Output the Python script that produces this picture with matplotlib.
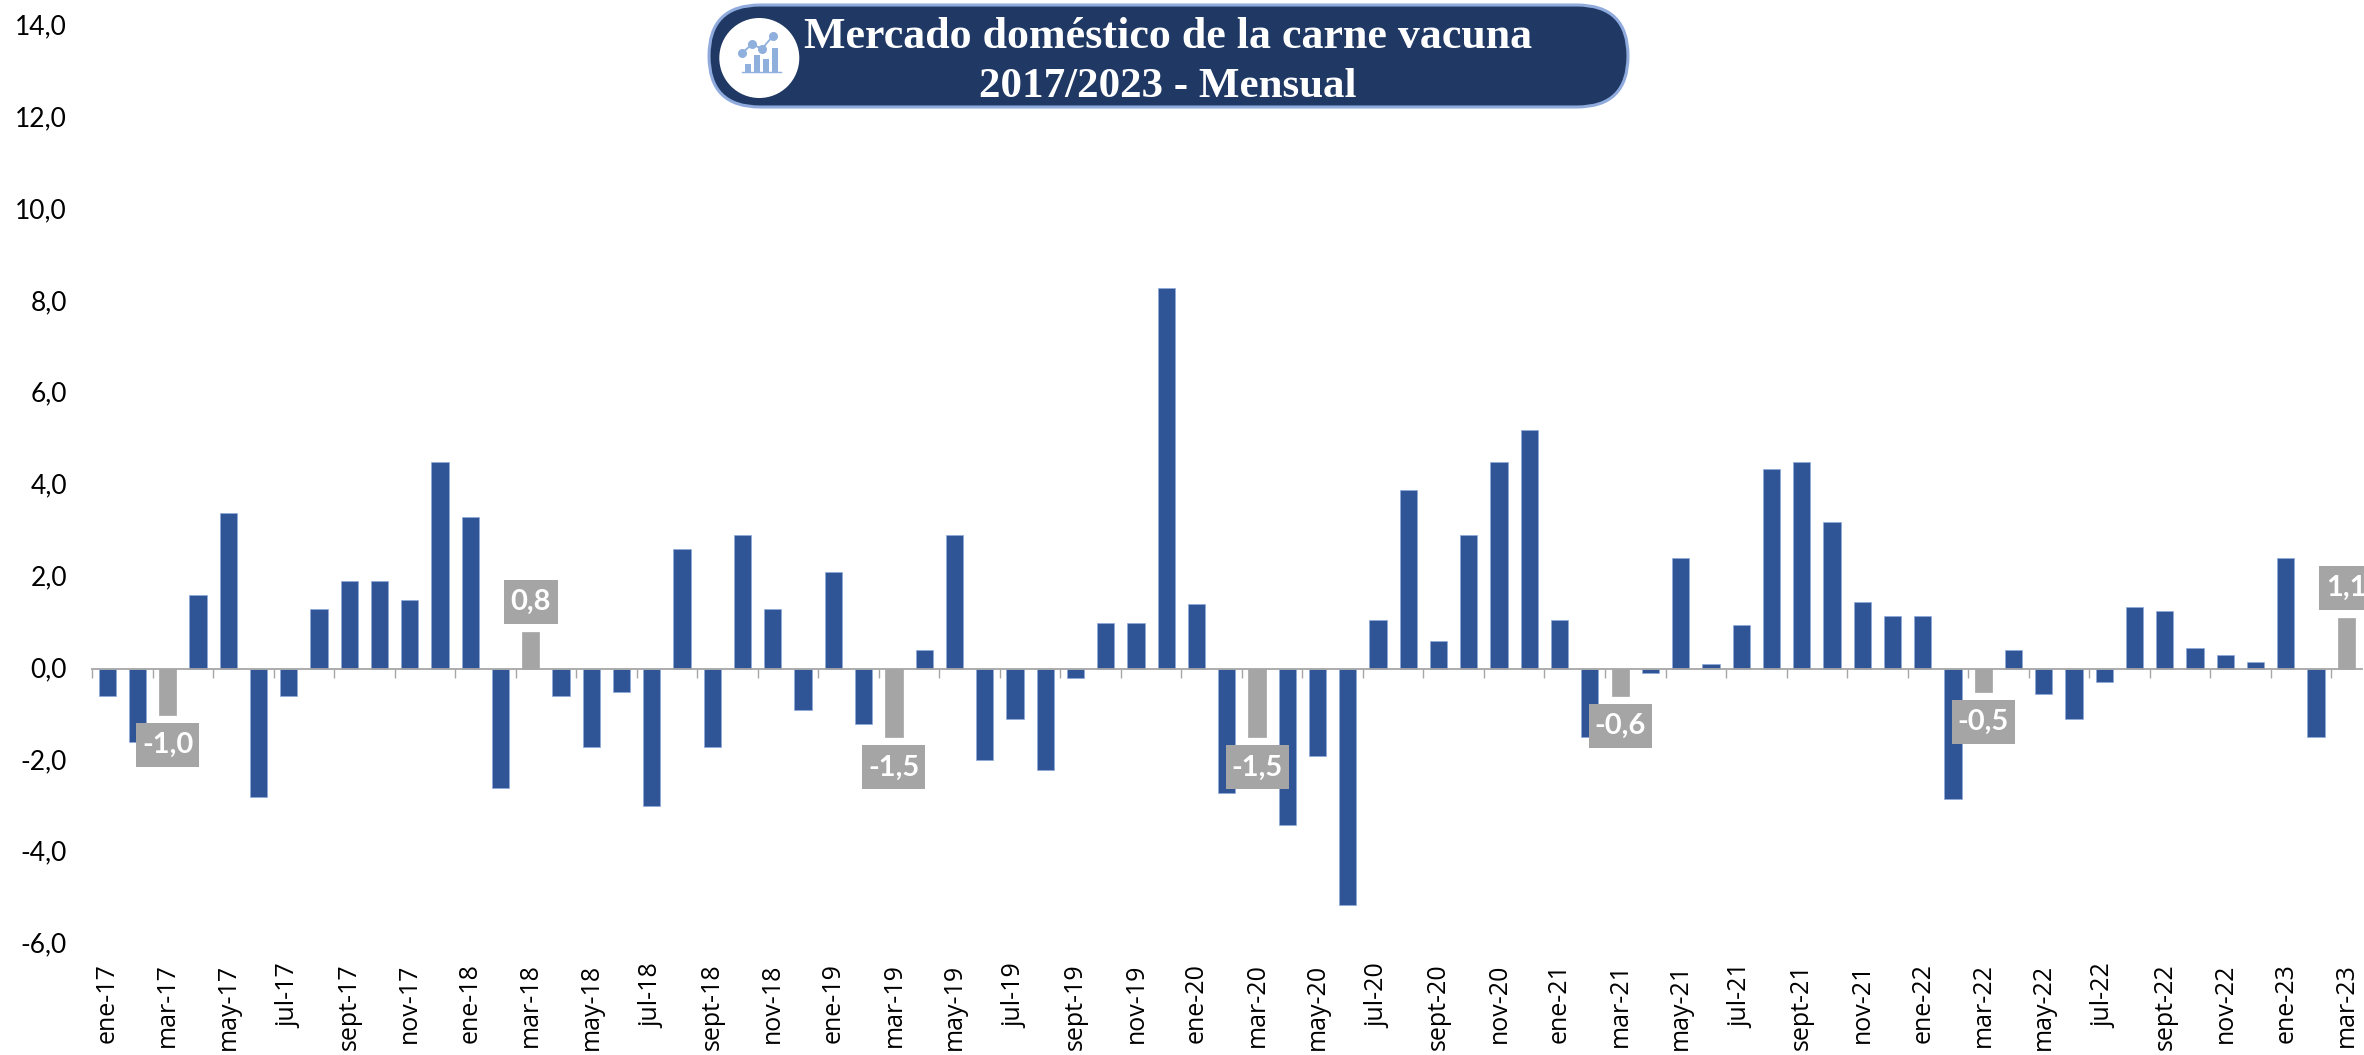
#!/usr/bin/env python
# -*- coding: utf-8 -*-

import matplotlib
matplotlib.use('Agg')
import matplotlib.pyplot as plt
from matplotlib.patches import Circle, FancyBboxPatch, Rectangle
from matplotlib.transforms import ScaledTranslation

MONTHS = ['ene', 'feb', 'mar', 'abr', 'may', 'jun', 'jul', 'ago', 'sept', 'oct', 'nov', 'dic']
YEARS = ['17', '18', '19', '20', '21', '22', '23']

values_2017 = [-0.6, -1.6, -1.0, 1.6, 3.4, -2.8, -0.6, 1.3, 1.9, 1.9, 1.5, 4.5]
values_2018 = [3.3, -2.6, 0.8, -0.6, -1.7, -0.5, -3.0, 2.6, -1.7, 2.9, 1.3, -0.9]
values_2019 = [2.1, -1.2, -1.5, 0.4, 2.9, -2.0, -1.1, -2.2, -0.2, 1.0, 1.0, 8.3]
values_2020 = [1.4, -2.7, -1.5, -3.4, -1.9, -5.15, 1.05, 3.9, 0.6, 2.9, 4.5, 5.2]
values_2021 = [1.05, -1.5, -0.6, -0.1, 2.4, 0.1, 0.95, 4.35, 4.5, 3.2, 1.45, 1.15]
values_2022 = [1.15, -2.85, -0.5, 0.4, -0.55, -1.1, -0.3, 1.35, 1.25, 0.45, 0.3, 0.15]
values_2023 = [2.4, -1.5, 1.1]

values = (values_2017 + values_2018 + values_2019 + values_2020 +
          values_2021 + values_2022 + values_2023)
labels = [f'{MONTHS[i % 12]}-{YEARS[i // 12]}' for i in range(len(values))]

y_ticks = [-6, -4, -2, 0, 2, 4, 6, 8, 10, 12, 14]

TITLE_1 = 'Mercado doméstico de la carne vacuna'
TITLE_2 = '2017/2023 - Mensual'

BLUE = '#2F5597'
BLUE_EDGE = '#8FAADC'
GRAY = '#A5A5A5'
AXIS = '#A6A6A6'
NAVY = '#1F3864'
ICON = '#8FAFDC'

W, H = 2364, 1055
LEFT, RIGHT, TOP, BOTTOM = 92, 2361.5, 26, 944   # plot area, pixels

px_x = (RIGHT - LEFT) / len(values)   # pixels per category
px_y = (BOTTOM - TOP) / 20            # pixels per y unit


def fmt(v):
    return f'{v:.1f}'.replace('.', ',')


def draw_chart(fig):
    ax = fig.add_axes([LEFT / W, 1 - BOTTOM / H, (RIGHT - LEFT) / W, (BOTTOM - TOP) / H])
    xs = range(len(values))
    # every march is highlighted in gray
    colors = [GRAY if lb.startswith('mar') else BLUE for lb in labels]
    edges = [GRAY if lb.startswith('mar') else BLUE_EDGE for lb in labels]
    ax.bar(xs, values, width=0.57, color=colors, edgecolor=edges, linewidth=0.5, zorder=2)

    ax.set_xlim(-0.5, len(values) - 0.5)
    ax.set_ylim(-6, 14)
    for side in ('top', 'left', 'right'):
        ax.spines[side].set_visible(False)
    ax.spines['bottom'].set_position(('data', 0))
    ax.spines['bottom'].set_color(AXIS)
    ax.spines['bottom'].set_linewidth(1.3)
    ax.spines['bottom'].set_zorder(3)

    ax.set_xticks([i - 0.5 for i in xs if i % 2 == 0])
    ax.tick_params(axis='x', length=6.5, width=1, color=AXIS, labelbottom=False)

    ax.set_yticks(y_ticks)
    ax.set_yticklabels([fmt(v) for v in y_ticks], fontfamily='Lato', fontsize=19, color='black')
    ax.tick_params(axis='y', length=0, pad=18)
    # labels sit a touch above their value in the reference
    nudge = ScaledTranslation(0, 1.5 / 100, fig.dpi_scale_trans)
    for tl in ax.get_yticklabels():
        tl.set_transform(tl.get_transform() + nudge)

    # month labels sit at the bottom of the axes, not on the zero line
    sec = ax.secondary_xaxis('bottom')
    sec.spines['bottom'].set_visible(False)
    sec.set_xticks([i for i in xs if i % 2 == 0])
    sec.set_xticklabels([labels[i] for i in xs if i % 2 == 0], rotation=90,
                        fontfamily='Open Sans', fontsize=18, color='black')
    sec.tick_params(axis='x', length=0, pad=14)

    # gray value boxes
    box_h = 44 / px_y
    gap = 8 / px_y
    for i, lb in enumerate(labels):
        if not lb.startswith('mar'):
            continue
        v = values[i]
        box_w = (63 if v < 0 else 54) / px_x
        y0 = v - gap - box_h if v < 0 else v + gap
        ax.add_patch(Rectangle((i - box_w / 2, y0), box_w, box_h, facecolor=GRAY,
                               edgecolor='none', zorder=4, clip_on=False))
        ax.text(i, y0 + box_h / 2, fmt(v), color='white', fontfamily='Lato', fontsize=21,
                fontweight='bold', ha='center', va='center', zorder=5, clip_on=False)


def draw_title(fig):
    # overlay in pixel coordinates for the title pill
    ax = fig.add_axes([0, 0, 1, 1])
    ax.set_xlim(0, W)
    ax.set_ylim(H, 0)
    ax.axis('off')
    ax.patch.set_alpha(0)

    ax.add_patch(FancyBboxPatch((709, 5), 919, 102, boxstyle='round,pad=0,rounding_size=51',
                                facecolor=NAVY, edgecolor=BLUE_EDGE, linewidth=2.2))
    ax.add_patch(Circle((759.3, 58), 40, facecolor='white', edgecolor='none'))

    # small chart icon
    for x0, x1, top in [(744.5, 750.5, 64), (753.5, 760, 55), (762.5, 769, 59), (772, 778, 47.5)]:
        ax.add_patch(Rectangle((x0, top), x1 - x0, 72 - top, facecolor=ICON, edgecolor='none'))
    ax.plot([741.5, 781], [72, 72], color=ICON, lw=1)
    ax.plot([741.7, 752, 762, 772.7], [53.3, 44.3, 48.7, 36.3], color=ICON, lw=1.3,
            marker='o', markersize=6.5, markeredgewidth=0)

    ax.text(1168, 37, TITLE_1, color='white', fontfamily='Liberation Serif', fontsize=31.7,
            fontweight='bold', ha='center', va='center')
    ax.text(1168, 87, TITLE_2, color='white', fontfamily='Liberation Serif', fontsize=31,
            fontweight='bold', ha='center', va='center')


def __main__():
    fig = plt.figure(figsize=(W / 100, H / 100), dpi=100, facecolor='white')
    draw_chart(fig)
    draw_title(fig)
    fig.savefig('out.png', dpi=100)


if __name__ == '__main__':
    __main__()
